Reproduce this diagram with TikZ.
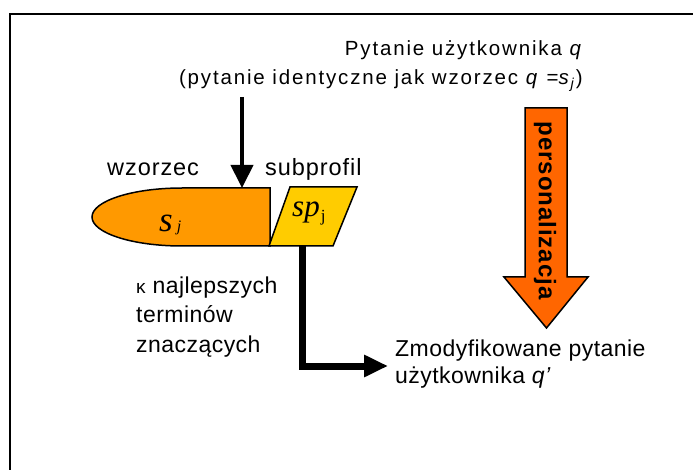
\documentclass[tikz,border=0pt]{standalone}
\usepackage{fontspec}
\setmainfont{Liberation Sans}[LetterSpace=4]
\newfontfamily\toplabel{Liberation Sans}[LetterSpace=9]
\newfontfamily\serifit{Liberation Serif}[ItalicFont=* Italic]
\usetikzlibrary{arrows.meta}

\definecolor{wzorfill}{HTML}{FF9900}
\definecolor{subfill}{HTML}{FFCC00}
\definecolor{persfill}{HTML}{FF6600}

\begin{document}
\begin{tikzpicture}[x=1pt,y=-1pt,
  lbl/.style={inner sep=0pt, align=left, font=\fontsize{23.5}{29.5}\selectfont},
  toplbl/.style={inner sep=0pt, align=right, font=\toplabel\fontsize{20.5}{29.5}\selectfont},
  outline/.style={draw=black, line width=1.5pt, line join=miter},
  thinarrow/.style={line width=4pt, -{Triangle[width=22pt,length=23pt]}},
  thickarrow/.style={line width=7pt, line join=miter, -{Triangle[width=21pt,length=24pt]}}
]
\useasboundingbox (0,0) rectangle (693,470);

% frame (only its top and left sides fall inside the page)
\draw[line width=2pt] (10,470) -- (10,14.5) -- (693,14.5);

% pattern s_j: a bar rounded on its left end
\draw[outline, fill=wzorfill] (270,188) -- (182,188)
  .. controls (132.3,188) and (92,201) .. (92,217)
  .. controls (92,233) and (132.3,246) .. (182,246)
  -- (270,246) -- cycle;

% subprofile sp_j: parallelogram
\draw[outline, fill=subfill] (269,246) -- (290,187) -- (357,187) -- (333,246) -- cycle;

% personalisation arrow
\draw[outline, fill=persfill] (525,108) -- (567,108) -- (567,277) -- (588,277)
  -- (546.5,328) -- (504,277) -- (525,277) -- cycle;
\node[inner sep=0pt, rotate=-90, font=\bfseries\fontsize{24}{24}\selectfont] (pers)
  at (545,210.5) {personalizacja};

% labels (the base of a multi-line node is its last line)
\node[toplbl, anchor=base east] (query) at (583,85)
  {Pytanie użytkownika \textit{q}\\
   (pytanie identyczne jak wzorzec \textit{q} =\textit{s}\textsubscript{\textit{j}})};
\node[lbl, anchor=base west] (wz) at (107,176) {wzorzec};
\node[lbl, anchor=base west] (sub) at (265,176) {subprofil};
\node[inner sep=0pt, align=left, anchor=base west,
  font=\addfontfeature{LetterSpace=2}\fontsize{23}{29.5}\selectfont] (kappa) at (136,352)
  {{\fontsize{19}{19}\selectfont κ} najlepszych\\terminów\\znaczących};
\node[inner sep=0pt, align=left, anchor=base west,
  font=\addfontfeature{LetterSpace=2}\fontsize{23}{26.5}\selectfont] (mod)
  at (395,383) {Zmodyfikowane pytanie\\użytkownika \textit{q’}};

% symbols inside the shapes
\node[inner sep=0pt, anchor=base west] (sj) at (159,232)
  {\serifit\itshape\fontsize{35}{35}\selectfont s\kern4pt{\fontsize{16}{16}\selectfont j}};
\node[inner sep=0pt, anchor=base west] (spj) at (292,217)
  {\serifit\itshape\fontsize{31}{31}\selectfont sp\kern1pt\raisebox{-5pt}{\upshape\fontsize{17}{17}\selectfont j}};

% connectors
\coordinate (qtop) at (242,97);
\coordinate (sjtop) at (242,188);
\coordinate (spbot) at (302,246);
\coordinate (qout) at (388,366);
\draw[thinarrow] (qtop) -- (sjtop);
\draw[thickarrow] (spbot) |- (qout);
\end{tikzpicture}
\end{document}
